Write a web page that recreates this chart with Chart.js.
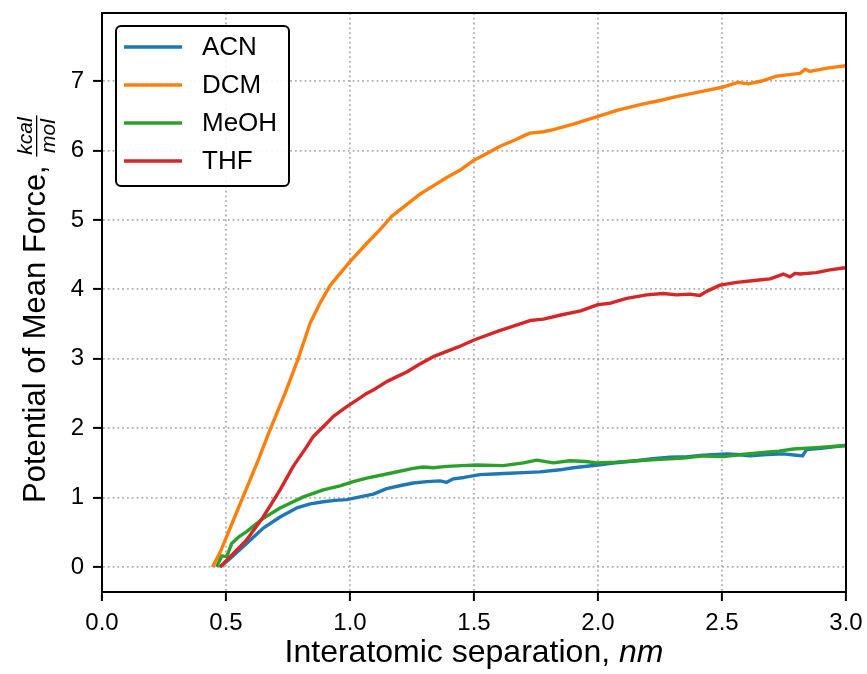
<!DOCTYPE html>
<html>
<head>
<meta charset="utf-8">
<script src="https://cdn.jsdelivr.net/npm/chart.js@4.4.0/dist/chart.umd.min.js"></script>
<style>
  html, body { margin: 0; padding: 0; background: #fff; }
  #chart { display: block; }
</style>
</head>
<body>
<canvas id="chart" width="867" height="674"></canvas>
<script>
var seriesNames = ['ACN', 'DCM', 'MeOH', 'THF'];
var seriesColors = ['#1f77b4', '#ff7f0e', '#2ca02c', '#d62728'];

var acnX = [0.476, 0.503, 0.54, 0.583, 0.62, 0.65, 0.718, 0.785, 0.84, 0.892, 0.94, 0.987, 1.04, 1.094, 1.148, 1.2, 1.255, 1.31, 1.363, 1.39, 1.417, 1.46, 1.524, 1.58, 1.645, 1.7, 1.766, 1.847, 1.9, 2.0, 2.07, 2.156, 2.22, 2.29, 2.36, 2.425, 2.519, 2.56, 2.613, 2.68, 2.747, 2.8, 2.825, 2.841, 2.9, 2.95, 3.0];
var acnY = [0, 0.08, 0.2, 0.34, 0.46, 0.56, 0.72, 0.85, 0.91, 0.94, 0.96, 0.97, 1.01, 1.05, 1.13, 1.17, 1.21, 1.23, 1.24, 1.22, 1.27, 1.29, 1.33, 1.34, 1.35, 1.36, 1.37, 1.4, 1.43, 1.47, 1.5, 1.53, 1.56, 1.58, 1.59, 1.61, 1.63, 1.62, 1.6, 1.62, 1.63, 1.61, 1.6, 1.69, 1.71, 1.73, 1.75];

var dcmX = [0.445, 0.475, 0.503, 0.55, 0.6, 0.63, 0.677, 0.738, 0.792, 0.839, 0.879, 0.919, 0.96, 1.0, 1.067, 1.121, 1.168, 1.2, 1.282, 1.3, 1.39, 1.45, 1.5, 1.565, 1.605, 1.665, 1.7, 1.726, 1.78, 1.82, 1.9, 2.0, 2.08, 2.17, 2.25, 2.32, 2.42, 2.5, 2.565, 2.605, 2.66, 2.72, 2.815, 2.835, 2.855, 2.93, 3.0];
var dcmY = [0, 0.2, 0.44, 0.85, 1.28, 1.54, 1.97, 2.5, 3.01, 3.51, 3.8, 4.05, 4.23, 4.4, 4.66, 4.86, 5.05, 5.14, 5.37, 5.41, 5.61, 5.73, 5.86, 5.98, 6.06, 6.15, 6.21, 6.25, 6.27, 6.3, 6.38, 6.49, 6.58, 6.66, 6.72, 6.78, 6.85, 6.91, 6.98, 6.96, 7.0, 7.07, 7.11, 7.17, 7.14, 7.19, 7.22];

var meohX = [0.462, 0.483, 0.503, 0.523, 0.55, 0.583, 0.65, 0.718, 0.812, 0.892, 0.96, 1.013, 1.067, 1.148, 1.255, 1.296, 1.336, 1.39, 1.45, 1.511, 1.618, 1.7, 1.753, 1.82, 1.887, 1.95, 1.995, 2.07, 2.156, 2.25, 2.344, 2.425, 2.505, 2.58, 2.667, 2.73, 2.788, 2.882, 2.996];
var meohY = [0, 0.16, 0.15, 0.34, 0.43, 0.51, 0.7, 0.85, 1.01, 1.11, 1.17, 1.23, 1.28, 1.34, 1.42, 1.44, 1.43, 1.45, 1.46, 1.47, 1.46, 1.5, 1.54, 1.5, 1.53, 1.52, 1.5, 1.51, 1.53, 1.55, 1.57, 1.6, 1.59, 1.62, 1.65, 1.67, 1.7, 1.72, 1.75];

var thfX = [0.476, 0.503, 0.583, 0.65, 0.718, 0.771, 0.825, 0.852, 0.892, 0.933, 0.987, 1.03, 1.067, 1.094, 1.148, 1.2, 1.229, 1.28, 1.336, 1.437, 1.5, 1.6, 1.726, 1.78, 1.85, 1.93, 2.0, 2.05, 2.116, 2.196, 2.263, 2.317, 2.371, 2.411, 2.438, 2.492, 2.56, 2.64, 2.694, 2.747, 2.774, 2.794, 2.815, 2.88, 2.935, 2.996];
var thfY = [0, 0.1, 0.39, 0.72, 1.11, 1.45, 1.73, 1.88, 2.02, 2.17, 2.31, 2.41, 2.5, 2.55, 2.67, 2.76, 2.81, 2.92, 3.03, 3.17, 3.27, 3.4, 3.55, 3.57, 3.63, 3.69, 3.78, 3.8, 3.87, 3.92, 3.94, 3.92, 3.93, 3.91, 3.97, 4.06, 4.1, 4.13, 4.15, 4.22, 4.18, 4.23, 4.22, 4.24, 4.28, 4.31];

var xTickValues = [0, 0.5, 1.0, 1.5, 2.0, 2.5, 3.0];
var yTickValues = [0, 1, 2, 3, 4, 5, 6, 7];

var FONT = '"Liberation Sans", Arial, Helvetica, sans-serif';

function toPoints(xs, ys) {
    var pts = [];
    for (var i = 0; i < xs.length; i++) {
        pts.push({ x: xs[i], y: ys[i] });
    }
    return pts;
}

var allX = [acnX, dcmX, meohX, thfX];
var allY = [acnY, dcmY, meohY, thfY];
var datasets = [];
for (var i = 0; i < seriesNames.length; i++) {
    datasets.push({
        label: seriesNames[i],
        data: toPoints(allX[i], allY[i]),
        borderColor: seriesColors[i],
        backgroundColor: seriesColors[i],
        borderWidth: 3.4,
        pointRadius: 0,
        tension: 0,
        fill: false,
        borderJoinStyle: 'round',
        order: seriesNames.length - i
    });
}

// frame, axis titles and legend box
var decorPlugin = {
    id: 'decor',
    afterDraw: function(chart) {
        var ctx = chart.ctx;
        var a = chart.chartArea;
        ctx.save();

        // full frame round the plot
        ctx.strokeStyle = '#000';
        ctx.lineWidth = 2;
        ctx.strokeRect(a.left, a.top, a.right - a.left, a.bottom - a.top);

        // x title
        ctx.fillStyle = '#000';
        ctx.textBaseline = 'alphabetic';
        ctx.textAlign = 'left';
        var normalFont = '32px ' + FONT;
        var italicFont = 'italic 32px ' + FONT;
        ctx.font = normalFont;
        var part1 = 'Interatomic separation, ';
        var w1 = ctx.measureText(part1).width;
        ctx.font = italicFont;
        var w2 = ctx.measureText('nm').width;
        var startX = (a.left + a.right) / 2 - (w1 + w2) / 2;
        ctx.font = normalFont;
        ctx.fillText(part1, startX, 662);
        ctx.font = italicFont;
        ctx.fillText('nm', startX + w1, 662);

        // y title with fraction
        ctx.save();
        ctx.translate(45, 503);
        ctx.rotate(-Math.PI / 2);
        ctx.font = '31px ' + FONT;
        var yPart = 'Potential of Mean Force, ';
        var wy = ctx.measureText(yPart).width;
        ctx.fillText(yPart, 0, 0);
        ctx.font = 'italic 21px ' + FONT;
        var wNum = ctx.measureText('kcal').width;
        var wDen = ctx.measureText('mol').width;
        var barW = Math.max(wNum, wDen) + 4;
        var cx = wy + barW / 2;
        ctx.textAlign = 'center';
        ctx.fillText('kcal', cx, -13);
        ctx.fillText('mol', cx, 10);
        ctx.fillRect(wy, -9, barW, 1.3);
        ctx.restore();

        // legend
        var lx = 116, ly = 26, lw = 173, lh = 160, r = 5;
        ctx.beginPath();
        ctx.moveTo(lx + r, ly);
        ctx.lineTo(lx + lw - r, ly);
        ctx.arcTo(lx + lw, ly, lx + lw, ly + r, r);
        ctx.lineTo(lx + lw, ly + lh - r);
        ctx.arcTo(lx + lw, ly + lh, lx + lw - r, ly + lh, r);
        ctx.lineTo(lx + r, ly + lh);
        ctx.arcTo(lx, ly + lh, lx, ly + lh - r, r);
        ctx.lineTo(lx, ly + r);
        ctx.arcTo(lx, ly, lx + r, ly, r);
        ctx.closePath();
        ctx.fillStyle = 'rgba(255,255,255,0.9)';
        ctx.fill();
        ctx.lineWidth = 2;
        ctx.strokeStyle = '#000';
        ctx.stroke();

        ctx.font = '26px ' + FONT;
        ctx.textAlign = 'left';
        ctx.textBaseline = 'middle';
        var ds = chart.data.datasets;
        for (var k = 0; k < ds.length; k++) {
            var rowY = 47 + k * 38;
            ctx.strokeStyle = ds[k].borderColor;
            ctx.lineWidth = 3.4;
            ctx.beginPath();
            ctx.moveTo(124, rowY);
            ctx.lineTo(182, rowY);
            ctx.stroke();
            ctx.fillStyle = '#000';
            ctx.fillText(ds[k].label, 202, rowY + 1);
        }
        ctx.restore();
    }
};

var gridOpts = {
    color: '#b0b0b0',
    lineWidth: 1.8,
    tickLength: 9,
    tickColor: '#000',
    tickWidth: 2
};

var ctx = document.getElementById('chart').getContext('2d');
var chart = new Chart(ctx, {
    type: 'line',
    data: { datasets: datasets },
    options: {
        responsive: false,
        animation: false,
        devicePixelRatio: 1,
        layout: { padding: { left: 0, right: 21, top: 13, bottom: 0 } },
        plugins: {
            legend: { display: false },
            tooltip: { enabled: false }
        },
        scales: {
            x: {
                type: 'linear',
                min: 0,
                max: 3,
                afterFit: function(scale) {
                    scale.height = 82;
                    scale.paddingLeft = 0;
                    scale.paddingRight = 0;
                },
                afterBuildTicks: function(scale) {
                    scale.ticks = xTickValues.map(function(v) { return { value: v }; });
                },
                ticks: {
                    color: '#000',
                    font: { family: FONT, size: 24 },
                    padding: 8,
                    maxRotation: 0,
                    callback: function(v) { return Number(v).toFixed(1); }
                },
                grid: gridOpts,
                border: { display: true, color: '#000', width: 2, dash: [1.8, 3] }
            },
            y: {
                type: 'linear',
                min: -0.36,
                max: 7.98,
                afterFit: function(scale) {
                    scale.width = 102;
                    scale.paddingTop = 0;
                    scale.paddingBottom = 0;
                },
                afterBuildTicks: function(scale) {
                    scale.ticks = yTickValues.map(function(v) { return { value: v }; });
                },
                ticks: {
                    color: '#000',
                    font: { family: FONT, size: 24 },
                    padding: 9,
                    callback: function(v) { return String(v); }
                },
                grid: gridOpts,
                border: { display: true, color: '#000', width: 2, dash: [1.8, 3] }
            }
        }
    },
    plugins: [decorPlugin]
});
</script>
</body>
</html>
